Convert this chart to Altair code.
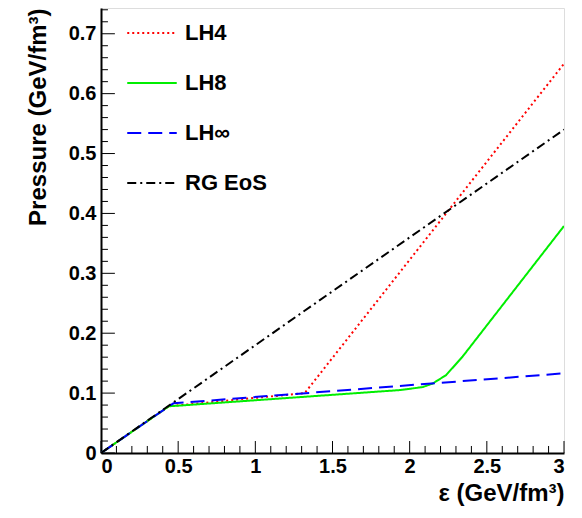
import altair as alt
import pandas as pd

# ---- data ----
models = ["LH4", "LH8", "LH∞", "RG EoS"]
colors = ["#ff0000", "#00ee00", "#0000ff", "#000000"]
dashes = [[2, 3], [1, 0], [14, 7], [9, 4, 2, 4]]

lh4_eps = [0.0, 0.44, 1.32, 3.0]
lh4_p = [0.0, 0.078, 0.100, 0.650]

lh8_eps = [0.0, 0.44, 0.50, 1.933, 2.084, 2.149, 2.236, 2.343, 3.0]
lh8_p = [0.0, 0.078, 0.079, 0.105, 0.110, 0.116, 0.130, 0.161, 0.379]

lhinf_eps = [0.0, 0.44, 0.47, 3.0]
lhinf_p = [0.0, 0.078, 0.083, 0.133]

rg_eps = [0.0, 3.0]
rg_p = [0.0, 0.54]

x_major = [0, 0.5, 1, 1.5, 2, 2.5, 3]
x_minor = [0.1, 0.2, 0.3, 0.4, 0.6, 0.7, 0.8, 0.9, 1.1, 1.2, 1.3, 1.4,
           1.6, 1.7, 1.8, 1.9, 2.1, 2.2, 2.3, 2.4, 2.6, 2.7, 2.8, 2.9]
y_major = [0, 0.1, 0.2, 0.3, 0.4, 0.5, 0.6, 0.7]
y_minor = [0.02, 0.04, 0.06, 0.08, 0.12, 0.14, 0.16, 0.18, 0.22, 0.24, 0.26, 0.28,
           0.32, 0.34, 0.36, 0.38, 0.42, 0.44, 0.46, 0.48, 0.52, 0.54, 0.56, 0.58,
           0.62, 0.64, 0.66, 0.68, 0.72, 0.74]

# ---- build table ----
rows = []
for name, xs, ys in [("LH4", lh4_eps, lh4_p), ("LH8", lh8_eps, lh8_p),
                     ("LH∞", lhinf_eps, lhinf_p), ("RG EoS", rg_eps, rg_p)]:
    for i, (a, b) in enumerate(zip(xs, ys)):
        rows.append({"model": name, "eps": a, "p": b, "i": i})
df = pd.DataFrame(rows)

XMAX, YMAX = 3.0, 0.743
W, H = 463, 445
FONT = "Liberation Sans"
XTITLE = "ε (GeV/fm³)"
YTITLE = "Pressure (GeV/fm³)"

xsc = alt.Scale(domain=[0, XMAX], nice=False, zero=False)
ysc = alt.Scale(domain=[0, YMAX], nice=False, zero=False)

xaxis = alt.Axis(values=x_major, format="~g", ticks=False, grid=False,
                 labelFont=FONT, labelFontSize=20, labelFontWeight="bold",
                 labelColor="black", labelPadding=3,
                 titleFont=FONT, titleFontSize=24, titleFontWeight="bold",
                 titleColor="black", titleAnchor="end",
                 titleBaseline="alphabetic", titleY=47,
                 domainColor="black", domainWidth=2)
yaxis = alt.Axis(values=y_major, format="~g", ticks=False, grid=False,
                 labelFont=FONT, labelFontSize=20, labelFontWeight="bold",
                 labelColor="black", labelPadding=5,
                 titleFont=FONT, titleFontSize=24, titleFontWeight="bold",
                 titleColor="black", titleAnchor="end", titlePadding=18,
                 domainColor="black", domainWidth=2)

legend = alt.Legend(
    title=None, orient="none", legendX=25, legendY=-1,
    symbolType="stroke", symbolSize=2450, symbolStrokeWidth=2,
    labelFont=FONT, labelFontSize=22, labelFontWeight="bold", labelColor="black",
    labelOffset=7, rowPadding=13, padding=0,
)

lines = alt.Chart(df).mark_line(strokeWidth=2, clip=True).encode(
    x=alt.X("eps:Q", scale=xsc, title=XTITLE, axis=xaxis),
    y=alt.Y("p:Q", scale=ysc, title=YTITLE, axis=yaxis),
    color=alt.Color("model:N", scale=alt.Scale(domain=models, range=colors), legend=legend),
    strokeDash=alt.StrokeDash("model:N", scale=alt.Scale(domain=models, range=dashes), legend=legend),
    order="i:Q",
)

XTICK_MAJ, XTICK_MIN = 0.020, 0.0117
YTICK_MAJ, YTICK_MIN = 0.090, 0.045

def xticks(vals, ln):
    d = pd.DataFrame({"t": vals, "a": 0.0, "b": ln})
    return alt.Chart(d).mark_rule(color="black", strokeWidth=1).encode(
        x=alt.X("t:Q", scale=xsc, title=XTITLE, axis=xaxis),
        y=alt.Y("a:Q", scale=ysc, title=YTITLE, axis=yaxis), y2="b:Q")

def yticks(vals, ln):
    d = pd.DataFrame({"t": vals, "a": 0.0, "b": ln})
    return alt.Chart(d).mark_rule(color="black", strokeWidth=1).encode(
        y=alt.Y("t:Q", scale=ysc, title=YTITLE, axis=yaxis),
        x=alt.X("a:Q", scale=xsc, title=XTITLE, axis=xaxis), x2="b:Q")

chart = alt.layer(
    xticks(x_major, XTICK_MAJ), xticks(x_minor, XTICK_MIN),
    yticks(y_major, YTICK_MAJ), yticks(y_minor, YTICK_MIN),
    lines,
).properties(
    width=W, height=H,
    autosize=alt.AutoSizeParams(type="none"),
    padding={"left": 93, "top": 0, "right": 9, "bottom": 56},
).configure_view(stroke="black", strokeWidth=1.5
).configure(background="white")

chart.save("out.html", embed_options={"renderer": "svg", "actions": False})
